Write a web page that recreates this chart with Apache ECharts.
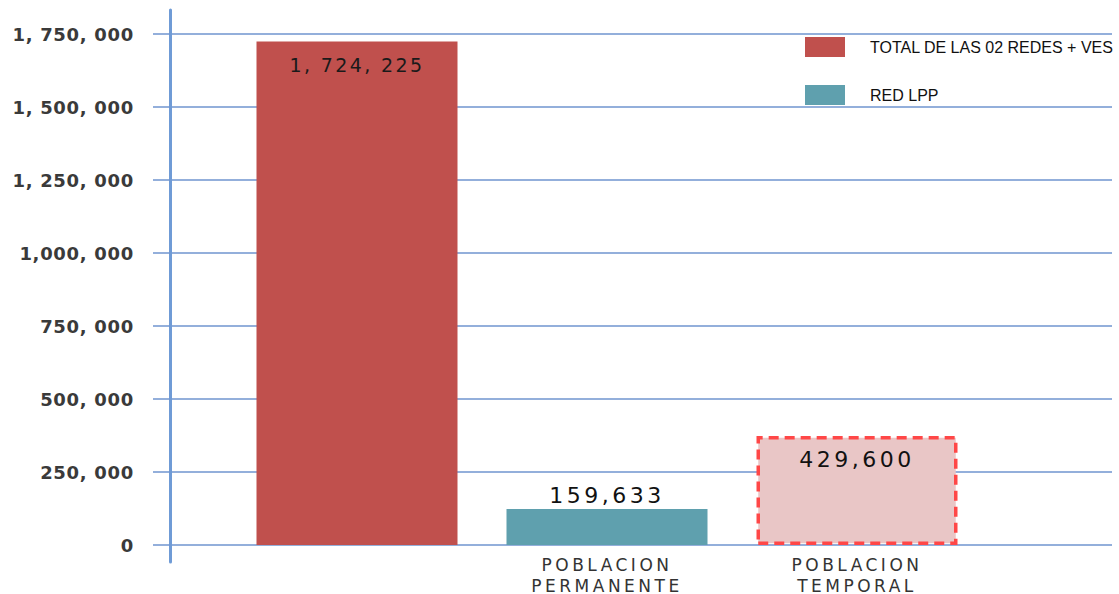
<!DOCTYPE html>
<html>
<head>
<meta charset="utf-8">
<script src="https://cdn.jsdelivr.net/npm/echarts@6/dist/echarts.min.js"></script>
<style>
html,body{margin:0;padding:0;background:#fff;}
#chart{width:1119px;height:594px;}
</style>
</head>
<body>
<div id="chart"></div>
<script>
// ---- data ----
const categories = ['', 'POBLACION\nPERMANENTE', 'POBLACION\nTEMPORAL'];
const seriesNames = ['TOTAL DE LAS 02 REDES + VES', 'RED LPP', 'POBLACION TEMPORAL'];
// bar heights as drawn in the picture
const totalRedesValues = [1724225, '-', '-'];
const redLppValues = ['-', 123000, '-'];
const temporalValues = ['-', '-', 373000];
// value labels as printed on the picture
const barLabels = ['1, 724, 225', '159,633', '429,600'];
const yTickLabels = ['0', '250, 000', '500, 000', '750, 000', '1,000, 000', '1, 250, 000', '1, 500, 000', '1, 750, 000'];
const yMax = 1750000;
const yStep = 250000;

const chart = echarts.init(document.getElementById('chart'), null, { renderer: 'svg' });
const gridColor = '#6f95cf';

const option = {
  backgroundColor: '#ffffff',
  animation: false,
  grid: [
    { left: 170, right: 7, top: 34, bottom: 49, outerBoundsMode: 'none', containLabel: false },
    { left: 232, width: 750, top: 34, bottom: 49, outerBoundsMode: 'none', containLabel: false },
    { left: 170, right: 7, top: 10, bottom: 32, outerBoundsMode: 'none', containLabel: false }
  ],
  legend: {
    data: [seriesNames[0], seriesNames[1]],
    orient: 'vertical',
    left: 805,
    top: 37,
    itemWidth: 40,
    itemHeight: 20,
    itemGap: 28,
    icon: 'rect',
    backgroundColor: '#fff',
    padding: 0,
    textStyle: { fontFamily: 'Liberation Sans', fontSize: 16, color: '#111', padding: [0, 0, 0, 20] }
  },
  xAxis: [
    { gridIndex: 0, type: 'value', show: false },
    {
      gridIndex: 1, type: 'category', data: categories,
      axisLine: { show: false }, axisTick: { show: false },
      axisLabel: { margin: 9, fontFamily: 'DejaVu Sans', fontSize: 17, lineHeight: 21, color: '#333', interval: 0 }
    },
    { gridIndex: 2, type: 'value', show: false }
  ],
  yAxis: [
    {
      gridIndex: 0, type: 'value', min: 0, max: yMax, interval: yStep,
      axisLine: { show: false },
      axisTick: { show: true, length: 17, lineStyle: { color: gridColor, width: 1.5 } },
      axisLabel: {
        margin: 36, fontFamily: 'DejaVu Sans', fontWeight: 'bold', fontSize: 18, color: '#3a3a3a',
        formatter: v => yTickLabels[Math.round(v / yStep)]
      },
      splitLine: { show: true, lineStyle: { color: gridColor, width: 1.5 } }
    },
    { gridIndex: 1, type: 'value', min: 0, max: yMax, interval: yStep, show: false },
    {
      gridIndex: 2, type: 'value', min: 0, max: 1,
      axisLine: { show: true, lineStyle: { color: '#6f9bd6', width: 3 } },
      axisTick: { show: false }, axisLabel: { show: false }, splitLine: { show: false }
    }
  ],
  series: [
    {
      name: seriesNames[0], type: 'bar', xAxisIndex: 1, yAxisIndex: 1, stack: 'all',
      barWidth: 201, data: totalRedesValues,
      itemStyle: { color: '#C0504D' },
      label: {
        show: true, position: 'insideTop', distance: 14,
        fontFamily: 'DejaVu Sans', fontSize: 19, color: '#1a1a1a',
        formatter: p => barLabels[p.dataIndex]
      }
    },
    {
      name: seriesNames[1], type: 'bar', xAxisIndex: 1, yAxisIndex: 1, stack: 'all',
      barWidth: 201, data: redLppValues,
      itemStyle: { color: '#5FA0AE' },
      label: {
        show: true, position: 'top', distance: 3,
        fontFamily: 'DejaVu Sans', fontSize: 22, color: '#111',
        formatter: p => barLabels[p.dataIndex]
      }
    },
    {
      name: seriesNames[2], type: 'bar', xAxisIndex: 1, yAxisIndex: 1, stack: 'all',
      barWidth: 203, data: temporalValues,
      itemStyle: { color: '#E9C6C6', borderColor: '#FF4747', borderWidth: 3.5, borderType: [10, 6] },
      label: {
        show: true, position: 'insideTop', distance: 12,
        fontFamily: 'DejaVu Sans', fontSize: 22, color: '#111',
        formatter: p => barLabels[p.dataIndex]
      }
    }
  ]
};
chart.setOption(option);

// the reference lettering is widely spaced; apply letter-spacing to the SVG text
const categoryLines = categories.join('\n').split('\n').filter(s => s);
function spacingFor(t) {
  if (yTickLabels.includes(t)) return 0.7;
  if (categoryLines.includes(t)) return 3.5;
  if (t === barLabels[0]) return 2.4;
  if (t === barLabels[1] || t === barLabels[2]) return 3.5;
  return 0;
}
function applySpacing() {
  document.querySelectorAll('#chart svg text').forEach(el => {
    const s = spacingFor(el.textContent);
    if (s) el.setAttribute('letter-spacing', s + 'px');
  });
}
chart.on('finished', applySpacing);
setTimeout(applySpacing, 50);
setTimeout(applySpacing, 300);
</script>
</body>
</html>
